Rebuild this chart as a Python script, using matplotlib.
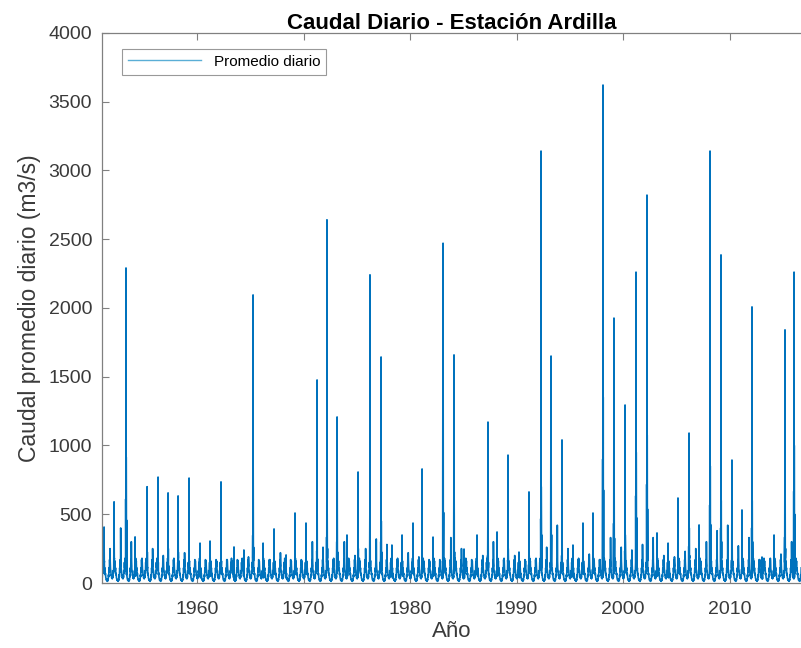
import numpy as np
import matplotlib.pyplot as plt

plt.rcParams['font.family'] = ['Liberation Sans', 'DejaVu Sans']

# Hydrological years on record
years = np.arange(1951, 2017)

# Date (decimal year) and size of the largest daily flow of each year (m3/s)
peak_time = [1951.27, 1952.21, 1953.33, 1954.18, 1955.31, 1956.34, 1957.28, 1958.22, 1959.25, 1960.28,
             1961.22, 1962.25, 1963.47, 1964.40, 1965.26, 1966.20, 1967.23, 1968.36, 1969.20, 1970.23,
             1971.27, 1972.20, 1973.15, 1974.08, 1975.12, 1976.24, 1977.28, 1978.30, 1979.25, 1980.28,
             1981.13, 1982.16, 1983.10, 1984.13, 1985.07, 1986.29, 1987.32, 1988.17, 1989.20, 1990.23,
             1991.17, 1992.30, 1993.24, 1994.27, 1995.30, 1996.24, 1997.18, 1998.12, 1999.15, 2000.19,
             2001.22, 2002.25, 2003.19, 2004.23, 2005.16, 2006.20, 2007.14, 2008.17, 2009.20, 2010.23,
             2011.17, 2012.11, 2013.05, 2014.18, 2015.21, 2016.06]
peak_flow = [407, 590, 2290, 335, 700, 770, 655, 633, 763, 290,
             305, 735, 262, 240, 2094, 290, 393, 204, 509, 436,
             1476, 2640, 1207, 349, 807, 2240, 1643, 276, 349, 436,
             829, 334, 2470, 1658, 247, 349, 1170, 371, 930, 225,
             662, 3140, 1650, 1040, 276, 436, 509, 3620, 1926, 1294,
             2260, 2820, 364, 290, 618, 1090, 422, 3140, 2385, 894,
             531, 2007, 189, 349, 1840, 2260]

# Flow on the days around each annual flood (m3/s)
flood_body = [300, 350, 1830, 200, 450, 300, 500, 450, 300, 150,
              200, 250, 150, 150, 1040, 150, 250, 120, 250, 250,
              700, 1000, 900, 200, 500, 650, 900, 150, 200, 250,
              300, 200, 2050, 900, 150, 200, 600, 200, 500, 150,
              400, 1400, 1400, 600, 150, 250, 300, 2700, 1300, 700,
              1900, 2150, 200, 150, 300, 800, 250, 1700, 1200, 500,
              300, 1200, 120, 200, 1000, 2000]

# Peak of the second wet season of each year (m3/s)
second_peak = [250, 400, 300, 180, 250, 200, 180, 220, 160, 150,
               130, 170, 140, 190, 160, 170, 220, 130, 150, 300,
               260, 180, 300, 200, 250, 320, 280, 180, 220, 190,
               160, 140, 330, 250, 160, 200, 300, 180, 200, 150,
               180, 260, 420, 250, 180, 210, 170, 330, 260, 240,
               280, 330, 200, 190, 230, 250, 300, 380, 420, 270,
               330, 170, 180, 210, 300, 200]

# Typical flow every ten days through the year (m3/s)
dekad_regime = [45, 30, 55, 40, 90, 70, 150, 110, 180, 120, 160, 90,
                110, 60, 70, 40, 30, 20, 25, 15, 20, 12, 30, 20,
                60, 45, 110, 80, 170, 120, 160, 100, 90, 55, 60, 35]

# Assemble the hydrograph nodes
t, q = [], []
for i, yr in enumerate(years):
    for k, val in enumerate(dekad_regime):
        t.append(yr + (k + 0.5) / 36)
        q.append(val)
    p, b = peak_time[i], flood_body[i]
    t += [p - 0.03, p - 0.006, p, p + 0.004, p + 0.02, p + 0.05]
    q += [b / 3, b, peak_flow[i], b, b / 2, b / 4]
    t += [yr + 0.83]
    q += [second_peak[i]]
order = np.argsort(t)
t = np.array(t)[order]
q = np.array(q)[order]

fig = plt.figure(figsize=(8.01, 6.48), dpi=100)
ax = fig.add_axes([0.127, 0.1003, 0.873, 0.8492])

ax.plot(t, q, color='#0072BD', lw=1.2, label='Promedio diario')

ax.set_xlim(1951.05, 1951.05 + 699.3 / 10.65)
ax.set_ylim(0, 4000)
ax.set_yticks(np.arange(0, 4001, 500))
ax.set_xticks(np.arange(1960, 2011, 10))

grey = '#3a3a3a'
for side in ['left', 'bottom', 'top']:
    ax.spines[side].set_color('#808080')
    ax.spines[side].set_linewidth(0.9)
ax.spines['right'].set_visible(False)
ax.tick_params(direction='in', length=5, width=0.8, colors='#808080', labelcolor=grey,
               labelsize=14, top=True, right=False)
ax.tick_params(axis='y', pad=7)
ax.tick_params(axis='x', pad=13)

ax.set_title('Caudal Diario - Estación Ardilla', fontsize=16, fontweight='bold', pad=3)
ax.set_xlabel('Año', fontsize=16, color=grey, labelpad=2)
ax.set_ylabel('Caudal promedio diario (m3/s)', fontsize=16.5, color=grey, labelpad=5)

leg = ax.legend(loc='upper left', fontsize=11, frameon=True, fancybox=False,
                borderpad=0.4, handlelength=4.8, bbox_to_anchor=(0.018, 0.985))
leg.get_frame().set_edgecolor('#808080')
leg.get_frame().set_linewidth(0.8)
for h in leg.get_lines():
    h.set_color('#5aaed6')
    h.set_linewidth(1.0)

fig.savefig('out.png', dpi=100)
